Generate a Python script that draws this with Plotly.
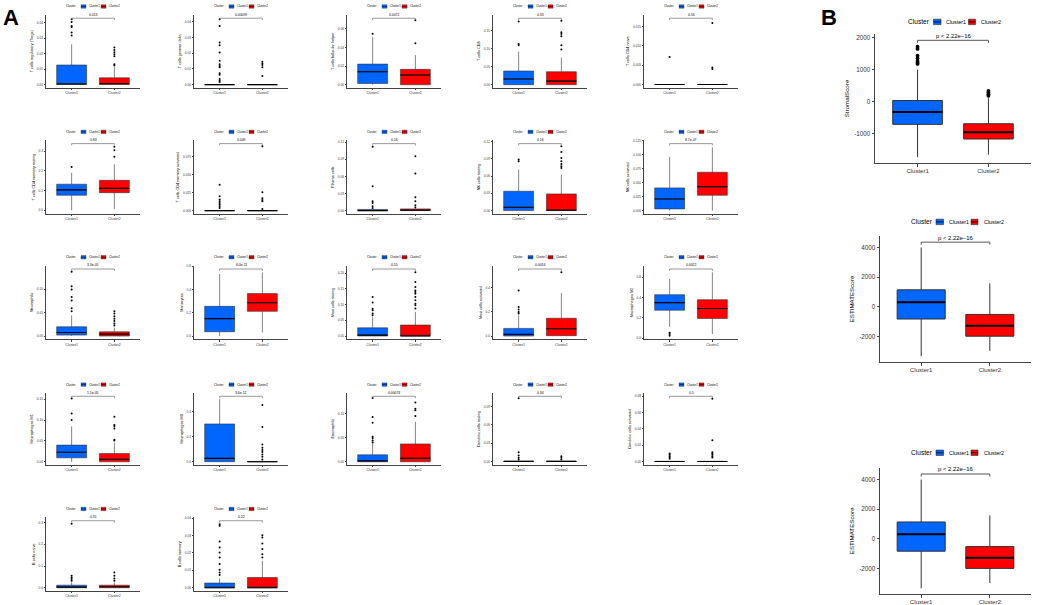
import plotly.graph_objects as go

# ---------------- DATA ----------------
CLUSTERS = ["Cluster1", "Cluster2"]
LEGEND_TITLE = "Cluster"

A_NAMES = [
    "T cells regulatory (Tregs)", "T cells gamma delta", "T cells follicular helper", "T cells CD8", "T cells CD4 naive",
    "T cells CD4 memory resting", "T cells CD4 memory activated", "Plasma cells", "NK cells resting", "NK cells activated",
    "Neutrophils", "Monocytes", "Mast cells resting", "Mast cells activated", "Macrophages M2",
    "Macrophages M1", "Macrophages M0", "Eosinophils", "Dendritic cells resting", "Dendritic cells activated",
    "B cells naive", "B cells memory",
]
A_PVALUES = [
    "0.013", "0.00099", "0.0072", "0.33", "0.56",
    "0.83", "0.049", "0.16", "0.16", "8.7e-07",
    "3.3e-05", "6.0e-11", "0.55", "0.0016", "0.0022",
    "1.1e-05", "3.6e-12", "0.00074", "0.34", "0.5",
    "0.31", "0.22",
]
A_TICKS = [
    ["0.00", "0.01", "0.02", "0.03", "0.04"],
    ["0.00", "0.01", "0.02", "0.03", "0.04"],
    ["0.00", "0.02", "0.04", "0.06"],
    ["0.00", "0.05", "0.10", "0.15"],
    ["0.000", "0.005", "0.010", "0.015"],
    ["0.0", "0.1", "0.2", "0.3"],
    ["0.000", "0.025", "0.050", "0.075"],
    ["0.00", "0.03", "0.06", "0.09", "0.12"],
    ["0.00", "0.03", "0.06", "0.09", "0.12"],
    ["0.000", "0.025", "0.050", "0.075", "0.100", "0.125"],
    ["0.00", "0.05", "0.10"],
    ["0.0", "0.2", "0.4", "0.6"],
    ["0.00", "0.05", "0.10", "0.15", "0.20"],
    ["0.0", "0.2", "0.4"],
    ["0.0", "0.2", "0.4", "0.6"],
    ["0.00", "0.05", "0.10", "0.15"],
    ["0.0", "0.2", "0.4"],
    ["0.00", "0.05", "0.10"],
    ["0.00", "0.03", "0.06", "0.09"],
    ["0.00", "0.02", "0.04", "0.06", "0.08"],
    ["0.0", "0.1", "0.2", "0.3"],
    ["0.00", "0.01", "0.02", "0.03", "0.04"],
]
# box statistics: [q1, median, q3, lower whisker, upper whisker]
A_C1_STATS = [
    [0, 0.0003, 0.0126, 0, 0.026],
    [0, 0, 0, 0, 0],
    [0.0014, 0.0139, 0.0221, 0, 0.051],
    [0, 0.016, 0.038, 0, 0.092],
    [0, 0, 0, 0, 0],
    [0.076, 0.103, 0.132, 0.0, 0.19],
    [0, 0, 0, 0, 0],
    [0, 0, 0.002, 0, 0.004],
    [0, 0.0058, 0.0337, 0, 0.0714],
    [0.003, 0.0208, 0.0405, 0, 0.0958],
    [0.002, 0.0077, 0.0197, 0, 0.044],
    [0.037, 0.15, 0.255, 0.0, 0.532],
    [0, 0.003, 0.026, 0, 0.061],
    [0, 0.014, 0.063, 0, 0.171],
    [0.276, 0.35, 0.428, 0.113, 0.583],
    [0.0095, 0.023, 0.040, 0, 0.085],
    [0, 0.026, 0.30, 0, 0.497],
    [0, 0.002, 0.0144, 0, 0.038],
    [0, 0, 0, 0, 0],
    [0, 0, 0, 0, 0],
    [0, 0.003, 0.012, 0, 0.0245],
    [0, 0, 0.0027, 0, 0.0054],
]
A_C1_OUT = [
    [0.0422, 0.0405, 0.0379, 0.0372, 0.0336, 0.0317],
    [0.0416, 0.0374, 0.0268, 0.0251, 0.0205, 0.0152, 0.013, 0.0118, 0.011, 0.0072, 0.0063, 0.0036, 0.0025, 0.0017],
    [0.0546],
    [0.113, 0.110, 0.176],
    [0.0071],
    [0.219],
    [0.0363, 0.020, 0.0154, 0.013, 0.0107, 0.0084, 0.006, 0.0037],
    [0.112, 0.0428, 0.0164, 0.0135, 0.0076, 0.0047],
    [0.0888, 0.0859],
    [],
    [0.053, 0.059, 0.076, 0.083, 0.099, 0.106, 0.137],
    [],
    [0.066, 0.072, 0.082, 0.087, 0.107, 0.124],
    [0.185, 0.199, 0.218, 0.24, 0.375],
    [0.055, 0.042, 0.026],
    [0.10, 0.116, 0.152],
    [],
    [0.04, 0.044, 0.049, 0.052, 0.081, 0.093, 0.132],
    [0.1034, 0.015, 0.0097, 0.006, 0.003],
    [0.0097, 0.0081, 0.0065, 0.0048, 0.0032],
    [0.032, 0.04, 0.047, 0.055, 0.294],
    [0.0073, 0.0088, 0.0103, 0.0136, 0.0174, 0.0203, 0.0231, 0.0266, 0.0356, 0.0365],
]
A_C2_STATS = [
    [0, 0.0005, 0.0043, 0, 0.0118],
    [0, 0, 0, 0, 0],
    [0, 0.0104, 0.0165, 0, 0.0318],
    [0, 0.010, 0.036, 0, 0.075],
    [0, 0, 0, 0, 0],
    [0.089, 0.111, 0.152, 0.005, 0.233],
    [0, 0, 0, 0, 0],
    [0, 0.0005, 0.003, 0, 0.005],
    [0, 0.0005, 0.029, 0, 0.0627],
    [0.0274, 0.0429, 0.0685, 0, 0.113],
    [0, 0.004, 0.009, 0, 0.018],
    [0.212, 0.286, 0.365, 0.031, 0.546],
    [0, 0.0, 0.035, 0, 0.077],
    [0.003, 0.06, 0.147, 0, 0.354],
    [0.195, 0.292, 0.379, 0.042, 0.648],
    [0, 0.006, 0.0197, 0, 0.045],
    [0, 0, 0.002, 0, 0.004],
    [0, 0.0075, 0.037, 0, 0.083],
    [0, 0, 0, 0, 0],
    [0, 0, 0, 0, 0],
    [0, 0.0045, 0.012, 0, 0.0245],
    [0, 0, 0.0059, 0, 0.0155],
]
A_C2_OUT = [
    [0.024, 0.0223, 0.0208, 0.0195, 0.0182, 0.0131, 0.0125],
    [0.0146, 0.0135, 0.0125, 0.011, 0.0055],
    [0.0443, 0.069],
    [0.098, 0.110, 0.135, 0.141, 0.146, 0.178],
    [0.0159, 0.0044, 0.004],
    [0.271, 0.304, 0.322],
    [0.0899, 0.0256, 0.0172, 0.0149, 0.013, 0.0023],
    [0.0955, 0.065, 0.0234, 0.0164, 0.0094, 0.0059],
    [0.0743, 0.0772, 0.0813, 0.0859, 0.0917, 0.102, 0.112],
    [],
    [0.0225, 0.027, 0.032, 0.037, 0.042, 0.048, 0.053],
    [],
    [0.088, 0.098, 0.103, 0.114, 0.124, 0.135, 0.14, 0.145, 0.156, 0.172, 0.203],
    [0.525],
    [],
    [0.051, 0.053, 0.08, 0.085, 0.088, 0.108],
    [0.45, 0.275, 0.136, 0.11, 0.092, 0.076, 0.058, 0.039, 0.018],
    [0.095, 0.107, 0.11, 0.123],
    [0.0086, 0.006, 0.003],
    [0.0113, 0.0097, 0.0081, 0.0065, 0.0048, 0.0259, 0.077],
    [0.032, 0.043, 0.055, 0.07],
    [0.0174, 0.0193, 0.0222, 0.0254, 0.0289, 0.0302],
]

B_NAMES = ["StromalScore", "ESTIMATEScore", "ESTIMATEScore"]
B_PVALUES = ["p < 2.22e\u221216", "p < 2.22e\u221216", "p < 2.22e\u221216"]
B_TICKS = [
    ["-1000", "0", "1000", "2000"],
    ["-2000", "0", "2000", "4000"],
    ["-2000", "0", "2000", "4000"],
]
B_C1_STATS = [
    [-720, -330, 30, -1750, 1000],
    [-830, 310, 1140, -3340, 4000],
    [-830, 310, 1140, -3340, 4000],
]
B_C1_OUT = [[1720, 1650, 1440, 1350, 1270, 1220, 1180], [], []]
B_C2_STATS = [
    [-1180, -970, -700, -1670, 100],
    [-1990, -1280, -520, -2980, 1580],
    [-1990, -1280, -520, -2980, 1580],
]
B_C2_OUT = [[330, 280, 230, 180], [], []]

# ---------------- LAYOUT / STYLE ----------------
W, H = 1038, 605
FONT = "Liberation Sans, Arial, sans-serif"
C1_COLOR = "#0066FF"
C2_COLOR = "#FF0000"

A_YRANGE = [
    [-0.002, 0.045], [-0.0019, 0.0444], [-0.003, 0.0747], [-0.008, 0.194], [-0.0008, 0.018],
    [-0.019, 0.355], [-0.0047, 0.0983], [-0.0059, 0.1235], [-0.0058, 0.1223], [-0.006, 0.1256],
    [-0.007, 0.15], [-0.028, 0.604], [-0.0105, 0.224], [-0.027, 0.58], [-0.01, 0.713],
    [-0.007, 0.165], [-0.024, 0.546], [-0.006, 0.1425], [-0.0054, 0.112], [-0.004, 0.084],
    [-0.015, 0.323], [-0.0019, 0.0404],
]
B_YRANGE = [[-1940, 2125], [-3745, 4785], [-3720, 4800]]

A_COL_X = [46, 194, 347, 493, 644]
A_WIDTH = 94
A_ROWS = [(13, 86), (139, 213), (265, 339), (393, 465), (518, 592)]
B_BOXES = [(875, 1031, 32, 162), (880, 1031, 235, 362), (880, 1031, 468, 595)]
B_LEGEND_DY = [12, 14, 15]

STYLE_A = dict(lw=0.6, med=1.1, ms=2.0, tick=1.5, tickfont=3.2, catfont=3.4, titlefont=3.8,
               standoff=3, pfont=3.4, bracket=0.045, btick=0.025, axis="#444444",
               bw=0.7, leg_dy=8.5, leg_font=2.9, leg_title=3.0, lab_standoff=0,
               leg=dict(title=-22, i1=(-12, -7), t1=-6, i2=(8, 13), t2=14, ih=3.5))
STYLE_B = dict(lw=1.0, med=2.0, ms=3.8, tick=2.5, tickfont=6.3, catfont=6.0, titlefont=6.2,
               standoff=3, pfont=5.9, bracket=0.05, btick=0.02, axis="#444444",
               bw=0.7, leg_dy=13.5, leg_font=5.4, leg_title=6.6, lab_standoff=-1,
               leg=dict(title=-34, i1=(-19.5, -12), t1=-9, i2=(15.5, 22.5), t2=26, ih=5.5))

fig = go.Figure()
layout = dict(width=W, height=H, margin=dict(l=0, r=0, t=0, b=0),
              paper_bgcolor="white", plot_bgcolor="white", showlegend=False,
              font=dict(family=FONT, color="black"))
shapes = []
annotations = []


def px_x(x):
    return x / W


def px_y(y):
    return 1 - y / H


def add_panel(idx, box_px, yrange, ticks, name, pval, s1, o1, s2, o2, st, leg_dy):
    sfx = "" if idx == 1 else str(idx)
    xa, ya = "x" + sfx, "y" + sfx
    x0, x1, y0, y1 = box_px
    axis_common = dict(showline=True, linecolor=st["axis"], linewidth=st["lw"], ticks="outside",
                       ticklen=st["tick"], tickwidth=st["lw"], tickcolor=st["axis"],
                       showgrid=False, zeroline=False, fixedrange=True)
    layout["xaxis" + sfx] = dict(domain=[px_x(x0), px_x(x1)], range=[0.4, 2.6], anchor=ya,
                                 tickmode="array", tickvals=[1, 2], ticktext=CLUSTERS,
                                 ticklabelstandoff=st["lab_standoff"],
                                 tickfont=dict(size=st["catfont"], color="#333333"), **axis_common)
    layout["yaxis" + sfx] = dict(domain=[px_y(y1), px_y(y0)], range=yrange, anchor=xa,
                                 tickmode="array", tickvals=[float(t) for t in ticks], ticktext=ticks,
                                 tickfont=dict(size=st["tickfont"], color="#333333"),
                                 title=dict(text=name, font=dict(size=st["titlefont"], color="black"),
                                            standoff=st["standoff"]),
                                 **axis_common)
    bw = st["bw"]
    for xpos, stats, outs, color in ((1, s1, o1, C1_COLOR), (2, s2, o2, C2_COLOR)):
        q1, med, q3, lo, hi = stats
        fig.add_trace(go.Box(x=[xpos], q1=[q1], median=[med], q3=[q3], lowerfence=[lo], upperfence=[hi],
                             width=bw, fillcolor=color, line=dict(color="#333333", width=st["lw"]),
                             whiskerwidth=0, boxpoints=False, xaxis=xa, yaxis=ya, hoverinfo="skip"))
        fig.add_trace(go.Scatter(x=[xpos - bw / 2, xpos + bw / 2], y=[med, med], mode="lines",
                                 line=dict(color="black", width=st["med"]), xaxis=xa, yaxis=ya,
                                 hoverinfo="skip"))
        if outs:
            fig.add_trace(go.Scatter(x=[xpos] * len(outs), y=outs, mode="markers",
                                     marker=dict(color="black", size=st["ms"]), xaxis=xa, yaxis=ya,
                                     hoverinfo="skip", cliponaxis=False))
    span = yrange[1] - yrange[0]
    yb = yrange[1] - st["bracket"] * span
    ybt = yb - st["btick"] * span
    fig.add_trace(go.Scatter(x=[1, 1, 2, 2], y=[ybt, yb, yb, ybt], mode="lines",
                             line=dict(color="#555555", width=st["lw"]), xaxis=xa, yaxis=ya,
                             hoverinfo="skip", cliponaxis=False))
    annotations.append(dict(x=1.5, y=yb, xref=xa, yref=ya, text=pval, showarrow=False,
                            yanchor="bottom", xanchor="center", yshift=-0.5,
                            font=dict(size=st["pfont"], color="black")))
    # legend above the panel
    c = (x0 + x1) / 2
    ly = y0 - leg_dy
    lg = st["leg"]
    annotations.append(dict(x=px_x(c + lg["title"]), y=px_y(ly), xref="paper", yref="paper",
                            text=LEGEND_TITLE, showarrow=False, xanchor="center", yanchor="middle",
                            font=dict(size=st["leg_title"], color="black")))
    for (ia, ib), tx, label, color in ((lg["i1"], lg["t1"], CLUSTERS[0], C1_COLOR),
                                       (lg["i2"], lg["t2"], CLUSTERS[1], C2_COLOR)):
        ih = lg["ih"]
        shapes.append(dict(type="rect", xref="paper", yref="paper",
                           x0=px_x(c + ia), x1=px_x(c + ib), y0=px_y(ly + ih / 2), y1=px_y(ly - ih / 2),
                           fillcolor=color, line=dict(color="#333333", width=st["lw"] * 0.6)))
        shapes.append(dict(type="line", xref="paper", yref="paper",
                           x0=px_x(c + ia), x1=px_x(c + ib), y0=px_y(ly), y1=px_y(ly),
                           line=dict(color="black", width=st["lw"] * 0.8)))
        annotations.append(dict(x=px_x(c + tx), y=px_y(ly), xref="paper", yref="paper",
                                text=label, showarrow=False, xanchor="left", yanchor="middle",
                                font=dict(size=st["leg_font"], color="black")))


idx = 1
for k in range(len(A_NAMES)):
    r, cidx = divmod(k, 5)
    x0 = A_COL_X[cidx]
    y0, y1 = A_ROWS[r]
    add_panel(idx, (x0, x0 + A_WIDTH, y0, y1), A_YRANGE[k], A_TICKS[k], A_NAMES[k], A_PVALUES[k],
              A_C1_STATS[k], A_C1_OUT[k], A_C2_STATS[k], A_C2_OUT[k], STYLE_A, STYLE_A["leg_dy"])
    idx += 1

for k in range(len(B_NAMES)):
    add_panel(idx, B_BOXES[k], B_YRANGE[k], B_TICKS[k], B_NAMES[k], B_PVALUES[k],
              B_C1_STATS[k], B_C1_OUT[k], B_C2_STATS[k], B_C2_OUT[k], STYLE_B, B_LEGEND_DY[k])
    idx += 1

# panel letters
annotations.append(dict(x=px_x(1), y=px_y(1), xref="paper", yref="paper", text="<b>A</b>",
                        showarrow=False, xanchor="left", yanchor="top", font=dict(size=22, color="black")))
annotations.append(dict(x=px_x(819), y=px_y(1), xref="paper", yref="paper", text="<b>B</b>",
                        showarrow=False, xanchor="left", yanchor="top", font=dict(size=22, color="black")))

layout["shapes"] = shapes
layout["annotations"] = annotations
fig.update_layout(**layout)
fig.write_html("out.html", config={"displayModeBar": False},
               post_script="document.body.style.margin='0';document.body.style.overflow='hidden';")
